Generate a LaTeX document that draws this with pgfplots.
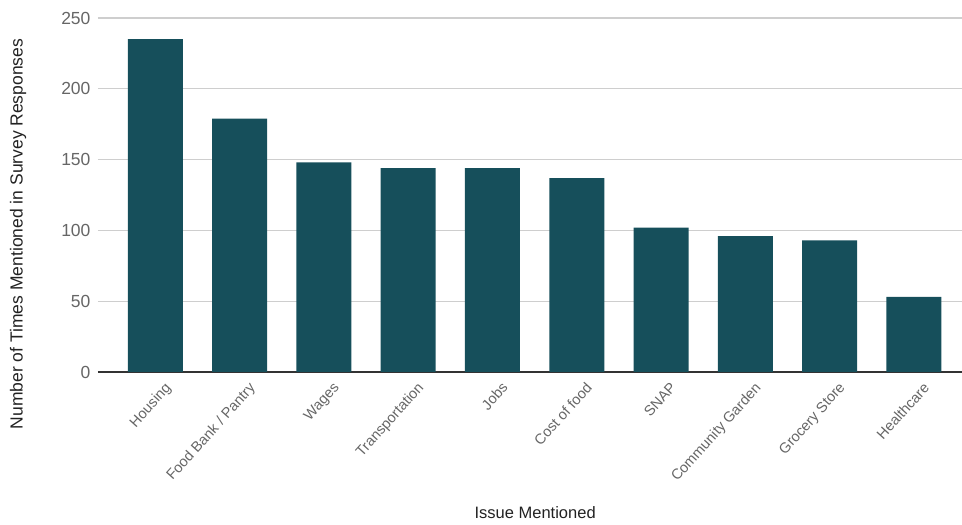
\documentclass[border=0pt]{standalone}
\usepackage{pgfplots}
\pgfplotsset{compat=1.18}
\usepackage{fontspec}
\setmainfont{Liberation Sans}
\usetikzlibrary{calc}

\definecolor{barteal}{RGB}{22,79,91}
\definecolor{gridgray}{RGB}{206,206,206}
\definecolor{ticktext}{RGB}{102,102,102}
\definecolor{titletext}{RGB}{34,34,34}

\begin{document}
\begin{tikzpicture}
\begin{axis}[
    name=ax,
    scale only axis,
    width=864pt, height=354pt,
    ybar, bar width=55pt,
    ymin=0, ymax=250,
    xmin=-0.68, xmax=9.57,
    ytick={0,50,...,250},
    xtick=data,
    xticklabels={Housing, Food Bank / Pantry, Wages, Transportation, Jobs, Cost of food, SNAP, Community Garden, Grocery Store, Healthcare},
    x tick label style={rotate=48, anchor=north east, font=\fontsize{14.5}{16}\selectfont, text=ticktext, xshift=2pt, yshift=-9pt},
    y tick label style={font=\fontsize{17.5}{19}\selectfont, text=ticktext, xshift=-4pt},
    /pgf/number format/assume math mode=true,
    ymajorgrids, grid style={gridgray, line width=1.2pt},
    major tick length=0pt,
    axis x line*=bottom, axis y line*=left,
    y axis line style={draw=none},
    x axis line style={draw=black!80, line width=1.2pt, -},
    xlabel={Issue Mentioned},
    ylabel={Number of Times Mentioned in Survey Responses},
    xlabel style={at={(rel axis cs:0.506,-0.398)}, anchor=center, font=\fontsize{16.5}{18}\selectfont, text=titletext},
    ylabel style={at={(rel axis cs:-0.0926,0.39)}, anchor=center, font=\fontsize{17.5}{19}\selectfont, text=titletext},
]
\addplot[fill=barteal, draw=none] coordinates {
    (0,235) (1,179) (2,148) (3,144) (4,144) (5,137) (6,102) (7,96) (8,93) (9,53)
};
\end{axis}
\pgfresetboundingbox
\path[use as bounding box] ($(ax.south west)+(-98pt,-153pt)$) rectangle ($(ax.north east)+(0pt,18pt)$);
\end{tikzpicture}
\end{document}
